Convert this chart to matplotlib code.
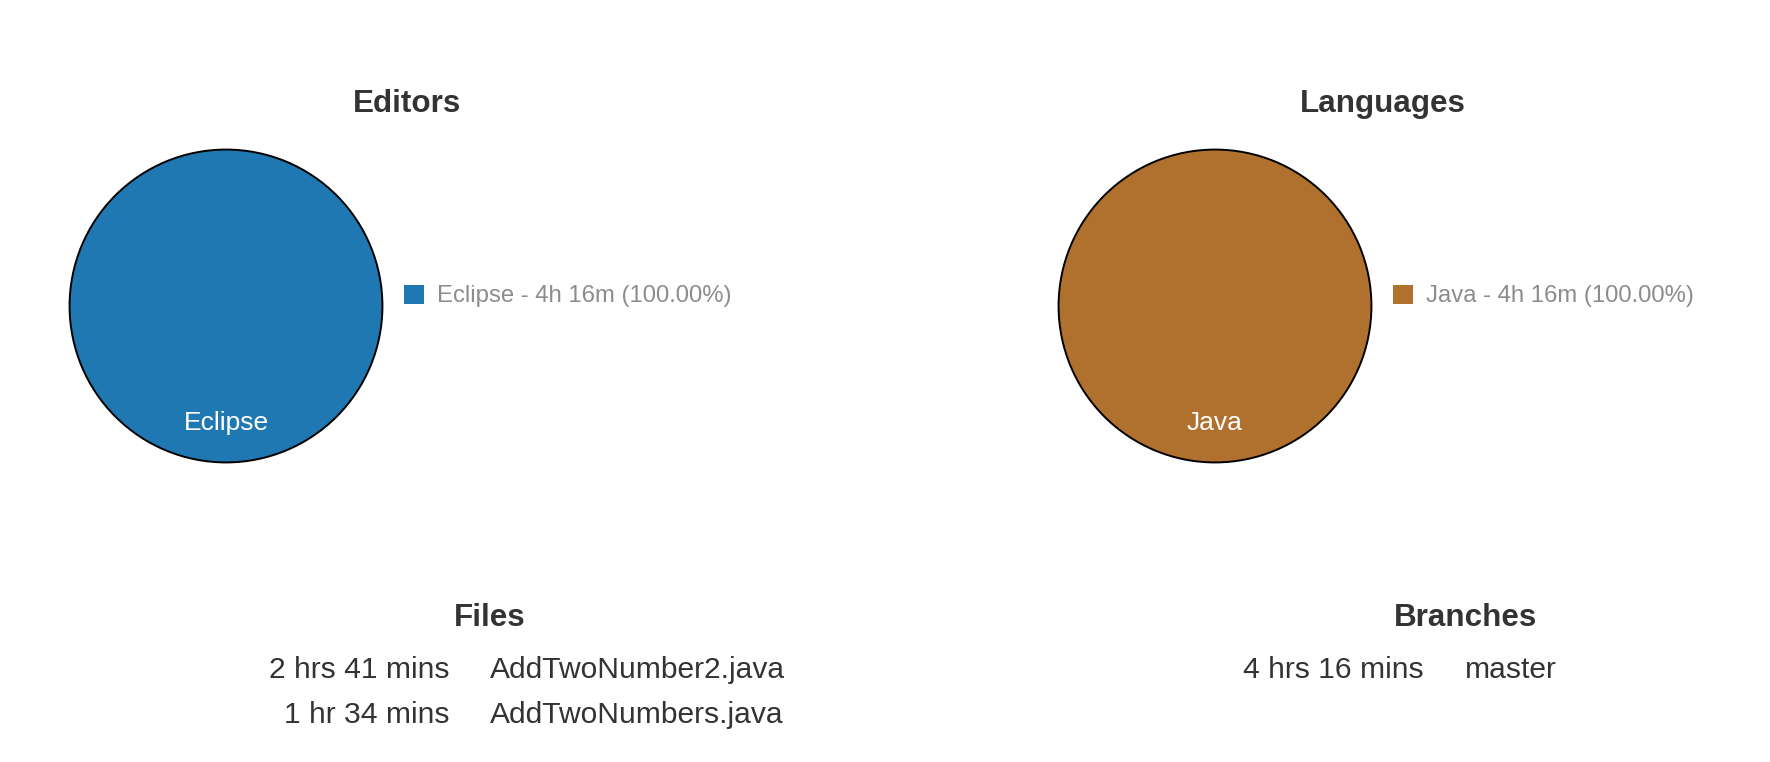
import matplotlib
matplotlib.use("Agg")
import matplotlib.pyplot as plt
from matplotlib.patches import Patch

plt.rcParams["font.family"] = ["Liberation Sans", "DejaVu Sans"]

editors = ["Eclipse"]
editor_minutes = [256]
editor_colors = ["#1f78b1"]

languages = ["Java"]
language_minutes = [256]
language_colors = ["#b0712f"]

files = ["AddTwoNumber2.java", "AddTwoNumbers.java"]
file_minutes = [161, 94]

branches = ["master"]
branch_minutes = [256]

TITLE = "#333333"
TEXT = "#333333"
GREY = "#8c8c8c"
W, H = 1770, 762


def fx(px):
    return px / W


def fy(py):
    return 1 - py / H


def short_time(m):
    return "%dh %dm" % (m // 60, m % 60)


def long_time(m):
    h, mm = m // 60, m % 60
    return "%d %s %d %s" % (h, "hr" if h == 1 else "hrs", mm, "min" if mm == 1 else "mins")


fig = plt.figure(figsize=(W / 100, H / 100), dpi=100)


def pie_block(cx, title_x, title, names, minutes, colors):
    r = 158
    ax = fig.add_axes([fx(cx - r), fy(306 + r), fx(2 * r), (2 * r) / H])
    total = sum(minutes)
    wedges, texts = ax.pie(minutes, labels=names, colors=colors, startangle=90,
                           labeldistance=0.75, radius=1,
                           wedgeprops=dict(edgecolor="black", linewidth=1.4),
                           textprops=dict(color="white", fontsize=19))
    for t in texts:
        t.set_ha("center")
        t.set_va("center")
    ax.set_xlim(-1.01, 1.01)
    ax.set_ylim(-1.01, 1.01)
    ax.set_aspect("equal")
    ax.axis("off")
    fig.text(fx(title_x), fy(104), title, fontsize=22.6, fontweight="bold",
             color=TITLE, ha="center", va="center")
    handles = [Patch(facecolor=c, edgecolor="none") for c in colors]
    labels = ["%s - %s (%.2f%%)" % (n, short_time(m), 100 * m / total)
              for n, m in zip(names, minutes)]
    leg = fig.legend(handles, labels, loc="center left",
                     bbox_to_anchor=(fx(cx + 178), fy(296)),
                     frameon=False, fontsize=17.2, handlelength=0.85,
                     handleheight=0.85, handletextpad=0.55,
                     borderpad=0, borderaxespad=0)
    for t in leg.get_texts():
        t.set_color(GREY)


pie_block(226, 407, "Editors", editors, editor_minutes, editor_colors)
pie_block(1215, 1383, "Languages", languages, language_minutes, language_colors)


def table_block(split, title, names, minutes):
    fig.text(fx(split), fy(618), title, fontsize=22.6, fontweight="bold",
             color=TITLE, ha="center", va="center")
    for i, (n, m) in enumerate(zip(names, minutes)):
        y = fy(670 + 45 * i)
        fig.text(fx(split - 41), y, long_time(m), fontsize=21.6, color=TEXT,
                 ha="right", va="center")
        fig.text(fx(split), y, n, fontsize=21.6, color=TEXT, ha="left", va="center")


table_block(490, "Files", files, file_minutes)
table_block(1465, "Branches", branches, branch_minutes)

fig.savefig("out.png", dpi=100, facecolor="white")
